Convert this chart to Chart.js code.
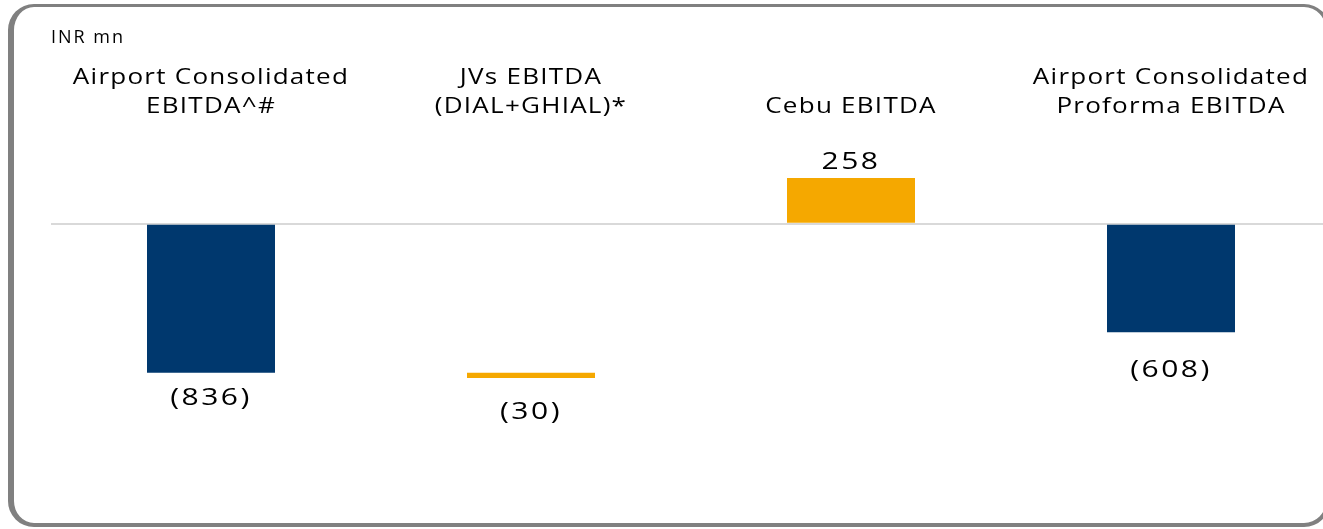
<!DOCTYPE html>
<html>
<head>
<meta charset="utf-8">
<script src="https://cdn.jsdelivr.net/npm/chart.js@4.4.1/dist/chart.umd.min.js"></script>
<style>
  html, body { margin: 0; padding: 0; background: #fff; overflow: hidden; }
  #wrap { position: relative; width: 1323px; height: 529px; overflow: hidden; }
  #frame {
    position: absolute; left: 8px; top: 4px; width: 1322px; height: 523px;
    box-sizing: border-box;
    border-style: solid; border-color: #808080;
    border-width: 3px 4px 4px 6px;
    border-radius: 26px;
  }
  #chart { position: absolute; left: 0; top: 0; }
</style>
</head>
<body>
<div id="wrap">
  <div id="frame"></div>
  <canvas id="chart" width="1340" height="529"></canvas>
</div>
<script>
// ── Data ──
const categories = [
  ['Airport Consolidated', 'EBITDA^#'],
  ['JVs EBITDA', '(DIAL+GHIAL)*'],
  ['Cebu EBITDA'],
  ['Airport Consolidated', 'Proforma EBITDA'],
];
const barStart  = [0, -836, 0, 0];
const barValues = [-836, -30, 258, -608];
const barColors = ['#00386E', '#F5A800', '#F5A800', '#00386E'];
const yTicks    = { min: -1500, max: 600, step: 300 };

const fmt = v => v < 0 ? '(' + Math.abs(v).toLocaleString('en-US') + ')' : v.toLocaleString('en-US');

// draw text stretched horizontally (the source looks like a widened Calibri)
function wideText(ctx, text, x, y, sx) {
  ctx.save();
  ctx.translate(x, y);
  ctx.scale(sx, 1);
  ctx.fillText(text, 0, 0);
  ctx.restore();
}

// ── Plugins ──
const spacingPlugin = {
  id: 'spacing',
  beforeDraw(chart) { chart.ctx.letterSpacing = '2px'; },
};

const categoryLabels = {
  id: 'categoryLabels',
  afterDraw(chart) {
    const { ctx, scales: { x } } = chart;
    ctx.save();
    ctx.letterSpacing = '1px';
    ctx.font = '21px "Open Sans"';
    ctx.fillStyle = '#000';
    ctx.textAlign = 'center';
    ctx.textBaseline = 'middle';
    const lineH = 29, lastY = 107;
    categories.forEach((lines, i) => {
      const cx = x.getPixelForValue(i);
      lines.forEach((t, j) => {
        wideText(ctx, t, cx, lastY - (lines.length - 1 - j) * lineH, 1.24);
      });
    });
    ctx.restore();
  },
};

const valueLabels = {
  id: 'valueLabels',
  afterDatasetsDraw(chart, args, opts) {
    const { ctx } = chart;
    const meta = chart.getDatasetMeta(0);
    ctx.save();
    ctx.letterSpacing = '2px';
    ctx.font = '24px "Open Sans"';
    ctx.fillStyle = '#000';
    ctx.textAlign = 'center';
    ctx.textBaseline = 'middle';
    meta.data.forEach((bar, i) => {
      const v = barValues[i];
      const edge = v < 0 ? Math.max(bar.y, bar.base) : Math.min(bar.y, bar.base);
      wideText(ctx, fmt(v), bar.x, edge + opts.offsets[i], 1.25);
    });
    ctx.restore();
  },
};

// ── Chart ──
new Chart(document.getElementById('chart'), {
  type: 'bar',
  data: {
    labels: categories.map(c => c.join(' ')),
    datasets: [{
      data: barValues.map((v, i) => [barStart[i], barStart[i] + v]),
      backgroundColor: barColors,
      borderWidth: 0,
      barPercentage: 0.4,
      categoryPercentage: 1.0,
    }],
  },
  options: {
    responsive: false,
    animation: false,
    layout: { padding: { left: 51, right: 9, top: 0, bottom: 38 } },
    plugins: {
      legend:  { display: false },
      tooltip: { enabled: false },
      title: {
        display: true,
        text: 'INR mn',
        align: 'start',
        color: '#000',
        font: { family: '"Open Sans"', size: 18, weight: 'normal' },
        padding: { top: 27, bottom: 68.4 },
      },
      valueLabels: { offsets: [25, 34, -16, 38] },
    },
    scales: {
      x: { display: false },
      y: {
        min: yTicks.min,
        max: yTicks.max,
        ticks: { display: false, stepSize: yTicks.step },
        border: { display: false },
        grid: {
          drawTicks: false,
          lineWidth: 2,
          color: c => c.tick && c.tick.value === 0 ? '#D9D9D9' : 'transparent',
        },
      },
    },
  },
  plugins: [spacingPlugin, categoryLabels, valueLabels],
});
</script>
</body>
</html>
